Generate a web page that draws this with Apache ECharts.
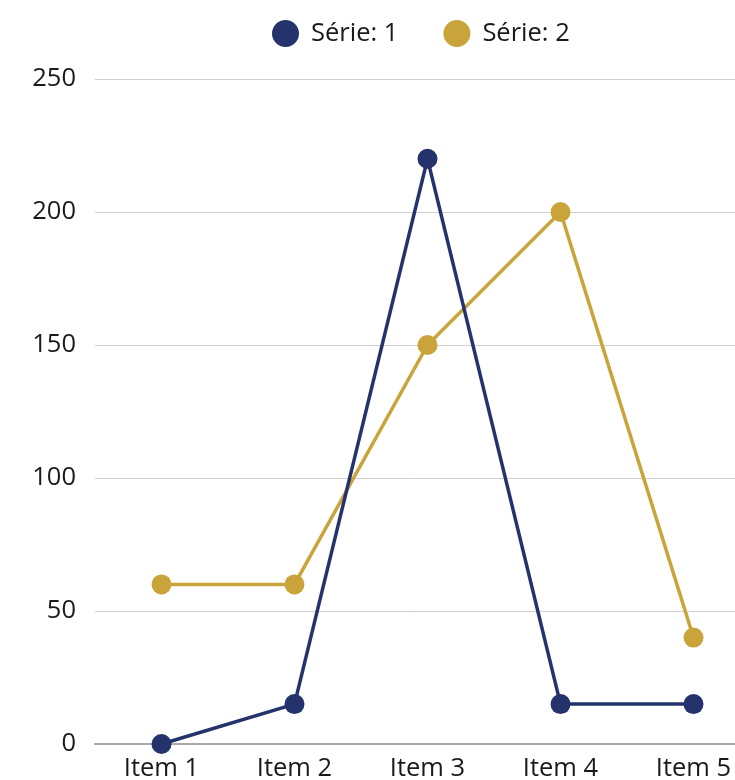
<!DOCTYPE html>
<html>
<head>
<meta charset="utf-8">
<script src="https://cdn.jsdelivr.net/npm/echarts@6/dist/echarts.min.js"></script>
<style>
  html, body { margin: 0; padding: 0; background: #fff; }
  #chart { width: 735px; height: 780px; }
</style>
</head>
<body>
<div id="chart"></div>
<script>
const categories = ['Item 1', 'Item 2', 'Item 3', 'Item 4', 'Item 5'];
const serie1 = [0, 15, 220, 15, 15];
const serie2 = [60, 60, 150, 200, 40];
const yTicks = { min: 0, max: 250, interval: 50 };

const chart = echarts.init(document.getElementById('chart'));
const font = '"Open Sans", "Noto Sans", sans-serif';

chart.setOption({
  animation: false,
  textStyle: { fontFamily: font },
  legend: {
    top: 20,
    left: 272,
    padding: 0,
    icon: 'circle',
    itemWidth: 27,
    itemHeight: 27,
    itemGap: 45,
    textStyle: { fontSize: 25.5, color: '#1a1a1a', fontFamily: font, padding: [0, 0, 0, 7] },
    data: ['Série: 1', 'Série: 2']
  },
  // the plot runs past the right edge of the canvas, so the last label is cut
  grid: { left: 95, top: 79, width: 665, height: 665, containLabel: false, outerBoundsMode: 'none' },
  xAxis: {
    type: 'category',
    data: categories,
    boundaryGap: true,
    axisLine: { lineStyle: { color: '#aaa', width: 2 } },
    axisTick: { show: false },
    axisLabel: { fontSize: 25.5, color: '#1a1a1a', margin: 12, fontFamily: font }
  },
  yAxis: {
    type: 'value',
    min: yTicks.min,
    max: yTicks.max,
    interval: yTicks.interval,
    axisLine: { show: false },
    axisTick: { show: false },
    splitLine: { lineStyle: { color: '#d0d0d0', width: 1 } },
    axisLabel: { fontSize: 25.5, color: '#1a1a1a', margin: 19, padding: [4, 0, 0, 0], fontFamily: font }
  },
  series: [
    {
      name: 'Série: 1',
      type: 'line',
      data: serie1,
      color: '#24336b',
      symbol: 'circle',
      symbolSize: 20,
      lineStyle: { width: 3.5 },
      z: 3
    },
    {
      name: 'Série: 2',
      type: 'line',
      data: serie2,
      color: '#c9a43a',
      symbol: 'circle',
      symbolSize: 20,
      lineStyle: { width: 3.5 },
      z: 2
    }
  ]
});
</script>
</body>
</html>
